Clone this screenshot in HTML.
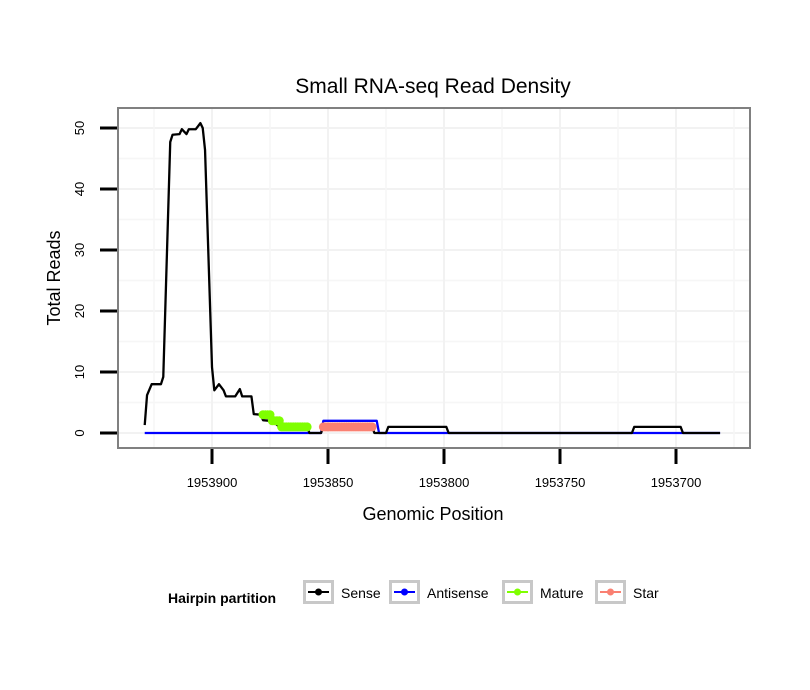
<!DOCTYPE html>
<html><head><meta charset="utf-8"><style>
body{margin:0;background:#fff}
svg{display:block;font-family:"Liberation Sans",Arial,sans-serif}
</style></head><body>
<svg id="chart" width="810" height="690" viewBox="0 0 810 690">
<rect width="810" height="690" fill="#fff"/>
<text x="433" y="93" text-anchor="middle" font-size="21">Small RNA-seq Read Density</text>
<g id="grid"></g>
<g id="series"></g>
<rect x="118" y="108" width="632" height="340" fill="none" stroke="#808080" stroke-width="2"/>
<g id="axes"></g>
<text x="433" y="520" text-anchor="middle" font-size="18">Genomic Position</text>
<text transform="translate(60,278) rotate(-90)" text-anchor="middle" font-size="18">Total Reads</text>
<g id="legend">
<text x="168" y="603" font-size="14" font-weight="bold">Hairpin partition</text>
</g>
</svg>
<script>
const xTicks=[1953900,1953850,1953800,1953750,1953700];
const yTicks=[0,10,20,30,40,50];
const sensePos=[1953929,1953928,1953926,1953922,1953921,1953918,1953917,1953914,1953913,1953911,1953910,1953907,1953905,1953904,1953903,1953900,1953899,1953897,1953895,1953894,1953890,1953888,1953887,1953883,1953882,1953879,1953878,1953875,1953874,1953871,1953870,1953859,1953858,1953853,1953852,1953831,1953830,1953825,1953824,1953799,1953798,1953719,1953718,1953698,1953697,1953681];
const senseVal=[1.3,6.2,8,8,9.2,47.7,48.9,49,49.8,49,49.8,49.8,50.8,50,46.4,10.8,7,8,7,6,6,7.2,6,6,3.1,3,2.1,2,2,1,1,1,0,0,1,1,0,0,1,1,0,0,1,1,0,0];
const antiPos=[1953929,1953853,1953852,1953829,1953828,1953681];
const antiVal=[0,0,2,2,0,0];
const maturePos=[1953878,1953877,1953876,1953875,1953874,1953873,1953872,1953871,1953870,1953869,1953868,1953867,1953866,1953865,1953864,1953863,1953862,1953861,1953860,1953859];
const matureVal=[3,3,3,3,2,2,2,2,1,1,1,1,1,1,1,1,1,1,1,1];
const starPos=[1953852,1953851,1953850,1953849,1953848,1953847,1953846,1953845,1953844,1953843,1953842,1953841,1953840,1953839,1953838,1953837,1953836,1953835,1953834,1953833,1953832,1953831];
const starVal=[1,1,1,1,1,1,1,1,1,1,1,1,1,1,1,1,1,1,1,1,1,1];

const NS="http://www.w3.org/2000/svg";
const X=p=>212+(1953900-p)*2.32;
const Y=v=>433-v*6.1;
function mk(tag,attrs,parent){const e=document.createElementNS(NS,tag);for(const k in attrs)e.setAttribute(k,attrs[k]);parent.appendChild(e);return e;}
const grid=document.getElementById('grid'),axes=document.getElementById('axes'),ser=document.getElementById('series'),leg=document.getElementById('legend');
yTicks.forEach((t,i)=>{
  const g=mk('line',{x1:118,x2:750,y1:Y(t),y2:Y(t),stroke:'#f2f2f2','stroke-width':2},grid);
  
  
  if(Y(t+5)>108){
    const m=mk('line',{x1:118,x2:750,y1:Y(t+5),y2:Y(t+5),stroke:'#f6f6f6','stroke-width':1.5},grid);
    
    
  }
  const tk=mk('line',{x1:100,x2:117,y1:Y(t),y2:Y(t),stroke:'#000','stroke-width':3},axes);
  
  
  const lb=mk('text',{transform:`translate(84,${Y(t)}) rotate(-90)`,'text-anchor':'middle','font-size':13},axes);
  lb.textContent=t;
  
  
});
xTicks.forEach(t=>{
  const g=mk('line',{x1:X(t),x2:X(t),y1:108,y2:448,stroke:'#f2f2f2','stroke-width':2},grid);
  
  
  const m=mk('line',{x1:X(t+25),x2:X(t+25),y1:108,y2:448,stroke:'#f6f6f6','stroke-width':1.5},grid);
  
  
  const tk=mk('line',{x1:X(t),x2:X(t),y1:449,y2:464,stroke:'#000','stroke-width':3},axes);
  
  
  const lb=mk('text',{x:X(t),y:487,'text-anchor':'middle','font-size':13},axes);
  lb.textContent=t;
  
  
});
{const m=mk('line',{x1:X(1953675),x2:X(1953675),y1:108,y2:448,stroke:'#f6f6f6','stroke-width':1.5},grid);

}
function line(pos,val,color,name){
  const p=mk('polyline',{points:pos.map((q,i)=>X(q)+','+Y(val[i])).join(' '),fill:'none',stroke:color,'stroke-width':2.3,'stroke-linejoin':'round'},ser);
  
  
}
function dots(pos,val,color,name){
  line(pos,val,color,name+'-line');
  pos.forEach((q,i)=>{
    const c=mk('circle',{cx:X(q),cy:Y(val[i]),r:4.5,fill:color},ser);
    
    
  });
}
line(antiPos,antiVal,'#0000ff','antisense-line');
line(sensePos,senseVal,'#000000','sense-line');
dots(maturePos,matureVal,'#7fff00','mature');
dots(starPos,starVal,'#fa8072','star');
const items=[['Sense','#000',303],['Antisense','#0000ff',389],['Mature','#7fff00',502],['Star','#fa8072',595]];
items.forEach(([lab,col,x])=>{
  const b=mk('rect',{x:x+1.5,y:581.5,width:28,height:21,fill:'#fff',stroke:'#c8c8c8','stroke-width':3},leg);
  
  
  const l=mk('line',{x1:x+5,x2:x+26,y1:592,y2:592,stroke:col,'stroke-width':2},leg);
  
  
  const c=mk('circle',{cx:x+15.5,cy:592,r:3.5,fill:col},leg);
  
  
  const t=mk('text',{x:x+38,y:598,'font-size':14},leg);
  t.textContent=lab;
  
  
});
</script>
</body></html>
